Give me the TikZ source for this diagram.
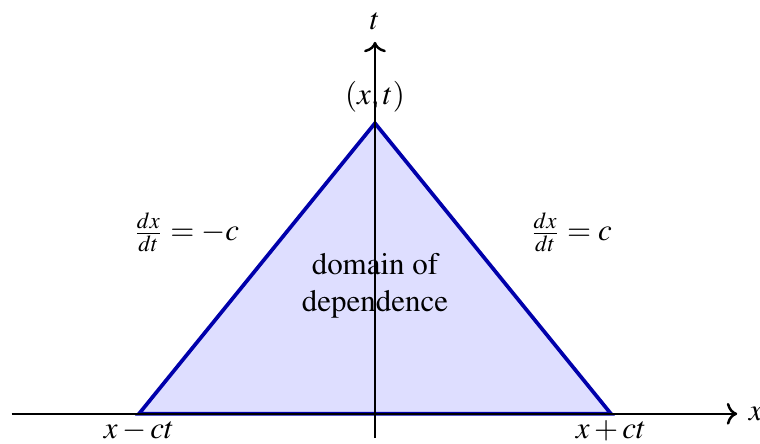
\documentclass[tikz,border=0pt]{standalone}
\usepackage[T1]{fontenc}
\usepackage{mathptmx}
\usepackage{amsmath}
\usepackage{tikz}
\usetikzlibrary{arrows.meta}

\begin{document}
\begin{tikzpicture}[x=1.34cm, y=1.32cm]
    \useasboundingbox (-3.178,-0.259) rectangle (3.263,3.56);

    % Corners of the characteristic triangle
    \coordinate (L) at (-2, 0);
    \coordinate (R) at (2, 0);
    \coordinate (P) at (0, 2.5);

    % Domain of dependence
    \filldraw[very thick, fill=blue!13, draw=blue!67!black] (L) -- (P) -- (R) -- cycle;
    \node[align=center] (dom) at (0, 1.1) {domain of\\dependence};

    % Axes
    \coordinate (xmin) at (-3.08, 0);
    \coordinate (xmax) at (3.07, 0);
    \coordinate (tmin) at (0, -0.21);
    \coordinate (tmax) at (0, 3.2);
    \draw[->, thick] (xmin) -- (xmax) node[right] (xlab) {$x$};
    \draw[->, thick] (tmin) -- (tmax) node[above] (tlab) {$t$};

    % Labels
    \node[above] (pt) at (P) {$(x,t)$};
    \node[below, inner sep=2pt] (xl) at (L) {$x-ct$};
    \node[below, inner sep=2pt] (xr) at (R) {$x+ct$};
    \node (sl) at (-1.6, 1.56) {$\frac{dx}{dt}=-c$};
    \node (sr) at (1.66, 1.56) {$\frac{dx}{dt}=c$};
\end{tikzpicture}
\end{document}
